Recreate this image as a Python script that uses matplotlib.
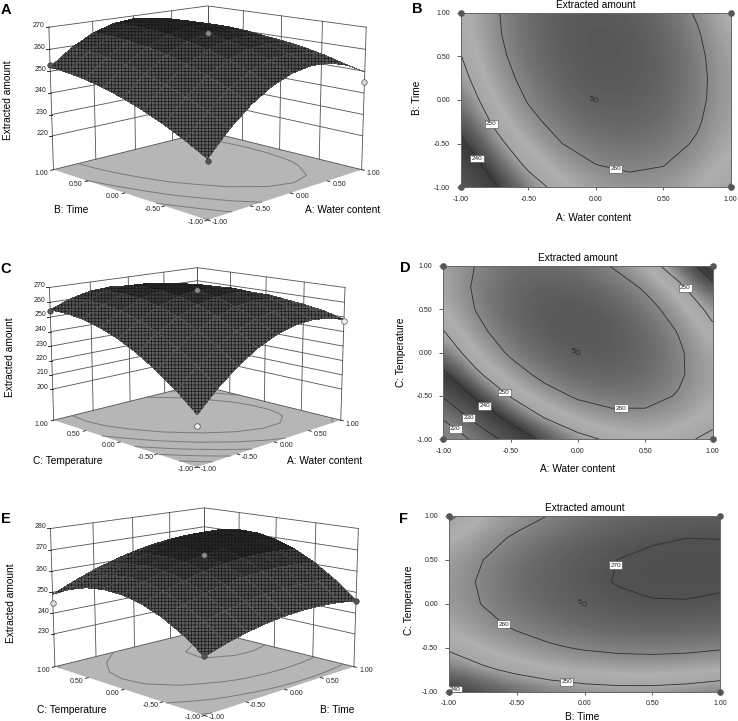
import numpy as np
import matplotlib
matplotlib.use("Agg")
import matplotlib.pyplot as plt
from matplotlib.colors import LinearSegmentedColormap, Normalize
from mpl_toolkits.mplot3d import proj3d

plt.rcParams['font.family'] = ['Liberation Sans', 'DejaVu Sans']
plt.rcParams['hatch.linewidth'] = 0.45
plt.rcParams['hatch.color'] = '#161616'

W, H = 738, 721

# coded factor levels of the tables below (rows = y factor, columns = x factor)
levels = [-1, -0.75, -0.5, -0.25, 0, 0.25, 0.5, 0.75, 1]
tick_vals = [-1, -0.5, 0, 0.5, 1]

# extracted amount, water content (x) vs time (y)
z_ab = [
    [229.07, 238.99, 246.80, 252.52, 256.13, 257.65, 257.06, 254.38, 249.59],
    [234.06, 243.66, 251.15, 256.55, 259.84, 261.04, 260.13, 257.13, 252.02],
    [238.44, 247.72, 254.89, 259.97, 262.94, 263.82, 262.59, 259.27, 253.84],
    [242.22, 251.17, 258.03, 262.78, 265.43, 265.98, 264.44, 260.79, 255.04],
    [245.37, 254.00, 260.54, 264.97, 267.30, 267.53, 265.67, 261.70, 255.63],
    [247.91, 256.22, 262.44, 266.55, 268.56, 268.47, 266.29, 262.00, 255.61],
    [249.85, 257.84, 263.73, 267.52, 269.21, 268.80, 266.29, 261.68, 254.98],
    [251.17, 258.84, 264.41, 267.88, 269.25, 268.52, 265.69, 260.76, 253.73],
    [251.87, 259.22, 264.47, 267.62, 268.67, 267.62, 264.47, 259.22, 251.87],
]

# extracted amount, water content (x) vs temperature (y)
z_cd = [
    [210.11, 222.97, 233.53, 241.76, 247.69, 251.30, 252.61, 251.59, 248.27],
    [221.20, 233.15, 242.80, 250.12, 255.14, 257.84, 258.24, 256.31, 252.08],
    [230.72, 241.76, 250.50, 256.92, 261.03, 262.82, 262.31, 259.48, 254.34],
    [238.66, 248.79, 256.62, 262.13, 265.33, 266.21, 264.79, 261.05, 255.00],
    [245.04, 254.26, 261.18, 265.78, 268.07, 268.05, 265.71, 261.06, 254.10],
    [249.84, 258.15, 264.16, 267.85, 269.23, 268.30, 265.05, 259.49, 251.62],
    [253.08, 260.48, 265.58, 268.36, 268.83, 266.98, 262.83, 256.36, 247.58],
    [254.72, 261.22, 265.41, 267.28, 266.84, 264.09, 259.03, 251.65, 241.96],
    [254.81, 260.40, 263.68, 264.64, 263.29, 259.63, 253.66, 245.37, 234.77],
]

# extracted amount, time (x) vs temperature (y)
z_ef = [
    [238.92, 241.94, 244.35, 246.14, 247.32, 247.89, 247.85, 247.19, 245.92],
    [245.68, 248.87, 251.45, 253.41, 254.77, 255.51, 255.64, 255.16, 254.06],
    [250.88, 254.24, 256.99, 259.13, 260.66, 261.57, 261.88, 261.57, 260.65],
    [254.48, 258.02, 260.95, 263.26, 264.96, 266.05, 266.53, 266.39, 265.64],
    [256.53, 260.24, 263.34, 265.82, 267.70, 268.96, 269.61, 269.65, 269.07],
    [257.00, 260.88, 264.16, 266.81, 268.86, 270.29, 271.12, 271.32, 270.92],
    [255.91, 259.96, 263.41, 266.24, 268.46, 270.07, 271.06, 271.44, 271.22],
    [253.22, 257.45, 261.07, 264.07, 266.47, 268.25, 269.42, 269.98, 269.92],
    [248.98, 253.38, 257.18, 260.35, 262.92, 264.87, 266.21, 266.94, 267.06],
]

# gray levels of the contour background against the response
shade_z = [205, 220, 232, 240, 245, 250, 254, 260, 265, 270, 275]
shade_gray = [135, 130, 85, 58, 105, 165, 175, 135, 105, 82, 75]
# gray levels of the meshed surface
mesh_z = [205, 250, 260, 265, 268, 280]
mesh_gray = [100, 92, 82, 60, 38, 32]


def gray_map(zs, grays, name):
    norm = Normalize(zs[0], zs[-1])
    stops = [(float(norm(z)), (g / 255, g / 255, g / 255)) for z, g in zip(zs, grays)]
    return LinearSegmentedColormap.from_list(name, stops), norm


shade_cmap, shade_norm = gray_map(shade_z, shade_gray, 'shade')
mesh_cmap, mesh_norm = gray_map(mesh_z, mesh_gray, 'mesh')

fig = plt.figure(figsize=(W / 100, H / 100), dpi=100)
LINE = '#505050'


def label3d(ax, x, y, z, s, dx, dy):
    # 2D label next to a projected 3D location, offset in points
    px, py, _ = proj3d.proj_transform(x, y, z, ax.get_proj())
    ax.annotate(s, xy=(px, py), xycoords='data', xytext=(dx, dy), textcoords='offset points',
                fontsize=5, ha='center', va='center', color='#222222', annotation_clip=False)


def surface(table, cx, cy, side, zmin, ztop, zticks, xname, yname, xlab, ylab, zlab, points):
    ax = fig.add_axes([(cx - side / 2) / W, 1 - (cy + side / 2) / H, side / W, side / H],
                      projection='3d', computed_zorder=False)
    ax.set_axis_off()
    ax.patch.set_alpha(0)
    ax.set_proj_type('persp', focal_length=0.6)
    ax.view_init(elev=12.6, azim=-135)
    ax.set_box_aspect((1, 1, 0.66))
    ax.set_xlim(-1, 1, view_margin=0)
    ax.set_ylim(-1, 1, view_margin=0)
    ax.set_zlim(zmin, ztop, view_margin=0)

    X, Y = np.meshgrid(levels, levels)
    Z = np.array(table)

    # floor and contours projected on it
    fx, fy = np.meshgrid([-1, 1], [-1, 1])
    ax.plot_surface(fx, fy, np.full_like(fx, zmin, dtype=float), color='#b6b6b6',
                    shade=False, linewidth=0, zorder=1)
    ax.contour(X, Y, Z, levels=zticks, zdir='z', offset=zmin, colors='#7a7a7a',
               linewidths=0.7, zorder=2)

    # walls
    for t in tick_vals:
        ax.plot([t, t], [1, 1], [zmin, ztop], color=LINE, lw=0.6, zorder=1.5)
        ax.plot([1, 1], [t, t], [zmin, ztop], color=LINE, lw=0.6, zorder=1.5)
    for z in zticks:
        ax.plot([-1, 1, 1], [1, 1, -1], [z, z, z], color=LINE, lw=0.6, zorder=1.5)
    ax.plot([-1, 1, 1], [1, 1, -1], [zmin] * 3, color=LINE, lw=0.6, zorder=1.5)

    ax.plot_surface(X, Y, Z, rstride=1, cstride=1, cmap=mesh_cmap, norm=mesh_norm,
                    linewidth=0, antialiased=False, hatch='+++++', zorder=3)

    for px, py, pz, col in points:
        ax.scatter([px], [py], [pz], s=16, color=col, edgecolors='#333333', linewidths=0.4,
                   depthshade=False, zorder=4)

    # ticks and tick labels along the front edges
    for t in tick_vals:
        ax.plot([t, t], [-1, -1.03], [zmin, zmin], color='#333333', lw=0.7, zorder=4)
        ax.plot([-1, -1.03], [t, t], [zmin, zmin], color='#333333', lw=0.7, zorder=4)
        drop = -1.6 if t == -1 else -2.9
        label3d(ax, t, -1, zmin, f'{t:.2f}', 8.6, drop)
        label3d(ax, -1, t, zmin, f'{t:.2f}', -8.6, drop)
    for z in zticks:
        ax.plot([-1, -1.02], [1, 1.02], [z, z], color='#333333', lw=0.7, zorder=4)
        label3d(ax, -1, 1, z, str(z), -7.2, 1.5)

    fig.text(xlab[0] / W, 1 - xlab[1] / H, xname, fontsize=7.3, ha='center', va='center')
    fig.text(ylab[0] / W, 1 - ylab[1] / H, yname, fontsize=7.3, ha='center', va='center')
    fig.text(zlab[0] / W, 1 - zlab[1] / H, 'Extracted amount', fontsize=7.3, rotation=90,
             ha='center', va='center')


def contour_panel(table, box, clev, lab_pos, xname, yname, xlab, ylab):
    x0, y0, x1, y1 = box
    ax = fig.add_axes([x0 / W, 1 - y1 / H, (x1 - x0) / W, (y1 - y0) / H])
    Z = np.array(table)
    half = 0.125
    ax.imshow(Z, origin='lower', extent=[-1 - half, 1 + half, -1 - half, 1 + half],
              cmap=shade_cmap, norm=shade_norm, interpolation='bicubic',
              interpolation_stage='data', aspect='auto', zorder=1)
    cs = ax.contour(levels, levels, Z, levels=clev, colors='#2e2e2e', linewidths=0.6, zorder=2)
    labels = ax.clabel(cs, fmt='%d', fontsize=4.6, inline=False, manual=lab_pos)
    for t in labels:
        t.set_rotation(0)
        t.set_color('#222222')
        t.set_zorder(5)
        t.set_bbox(dict(facecolor='white', edgecolor='#444444', linewidth=0.4, pad=0.9))
    ax.set_xlim(-1, 1)
    ax.set_ylim(-1, 1)
    ax.set_xticks(tick_vals)
    ax.set_yticks(tick_vals)
    ax.set_xticklabels([f'{t:.2f}' for t in tick_vals])
    ax.set_yticklabels([f'{t:.2f}' for t in tick_vals])
    ax.tick_params(axis='x', labelsize=5, length=2, width=0.6, color='#444444', labelcolor='#222222', pad=4)
    ax.tick_params(axis='y', labelsize=5, length=3, width=0.6, color='#444444', labelcolor='#222222', pad=5)
    for s in ax.spines.values():
        s.set_color('#666666')
        s.set_linewidth(0.7)
    # design points
    ax.scatter([-1, -1, 1, 1], [-1, 1, -1, 1], s=14, color='#555555', clip_on=False, zorder=6)
    ax.scatter([0], [0], s=9, facecolors='none', edgecolors='#333333', linewidths=0.6, zorder=6)
    ax.text(-0.02, 0.01, '5', fontsize=5, ha='right', va='center', color='#222222', zorder=6)
    fig.text((x0 + x1) / 2 / W, 1 - (y0 - 8) / H, 'Extracted amount', fontsize=7.3,
             ha='center', va='center')
    fig.text(xlab[0] / W, 1 - xlab[1] / H, xname, fontsize=7.3, ha='center', va='center')
    fig.text(ylab[0] / W, 1 - ylab[1] / H, yname, fontsize=7.3, rotation=90, ha='center', va='center')


surface(z_ab, 203, 104, 335, 204, 270, [220, 230, 240, 250, 260, 270],
        'B: Time', 'A: Water content', (71, 210), (343, 210), (8, 100),
        [(-1, 1, 253, '#555555'), (1, -1, 245, '#d8d8d8'), (-1, -1, 228, '#555555'), (0, 0, 267.3, '#8a8a8a')])
contour_panel(z_ab, (461, 12.7, 730.7, 187.3), [240, 250, 260],
              [(-0.87, -0.66), (-0.76, -0.26), (0.15, -0.77)],
              'A: Water content', 'B: Time', (594, 218), (417, 98))

surface(z_cd, 193, 359, 312, 178, 270, [200, 210, 220, 230, 240, 250, 260, 270],
        'C: Temperature', 'A: Water content', (68, 461), (325, 461), (10, 357),
        [(-1, 1, 254, '#555555'), (1, -1, 247, '#eeeeee'), (-1, -1, 203, '#eeeeee'), (0, 0, 268, '#8a8a8a')])
contour_panel(z_cd, (443.3, 265.7, 712.7, 439.3), [220, 230, 240, 250, 260],
              [(0.32, -0.63), (-0.53, -0.43), (-0.68, -0.59), (-0.80, -0.73), (-0.90, -0.86), (0.82, 0.775)],
              'A: Water content', 'C: Temperature', (578, 469), (401, 352))

surface(z_ef, 200, 603, 325, 214, 280, [230, 240, 250, 260, 270, 280],
        'C: Temperature', 'B: Time', (72, 710), (337, 710), (11, 603),
        [(-1, 1, 245, '#d8d8d8'), (1, -1, 246, '#555555'), (-1, -1, 239, '#555555'), (0, 0, 267.7, '#8a8a8a')])
contour_panel(z_ef, (449, 516, 720, 691.7), [240, 250, 260, 270],
              [(0.23, 0.44), (-0.58, -0.20), (-0.13, -0.86), (-0.95, -0.945)],
              'B: Time', 'C: Temperature', (582, 717), (409, 600))

panel_tags = ['A', 'B', 'C', 'D', 'E', 'F']
tag_x = [6, 417, 6, 405, 6, 403]
tag_y = [10, 9, 269, 268, 519, 519]
for tag, tx, ty in zip(panel_tags, tag_x, tag_y):
    fig.text(tx / W, 1 - ty / H, tag, fontsize=10.5, fontweight='bold', ha='center', va='center')

fig.savefig('out.png', dpi=100)
